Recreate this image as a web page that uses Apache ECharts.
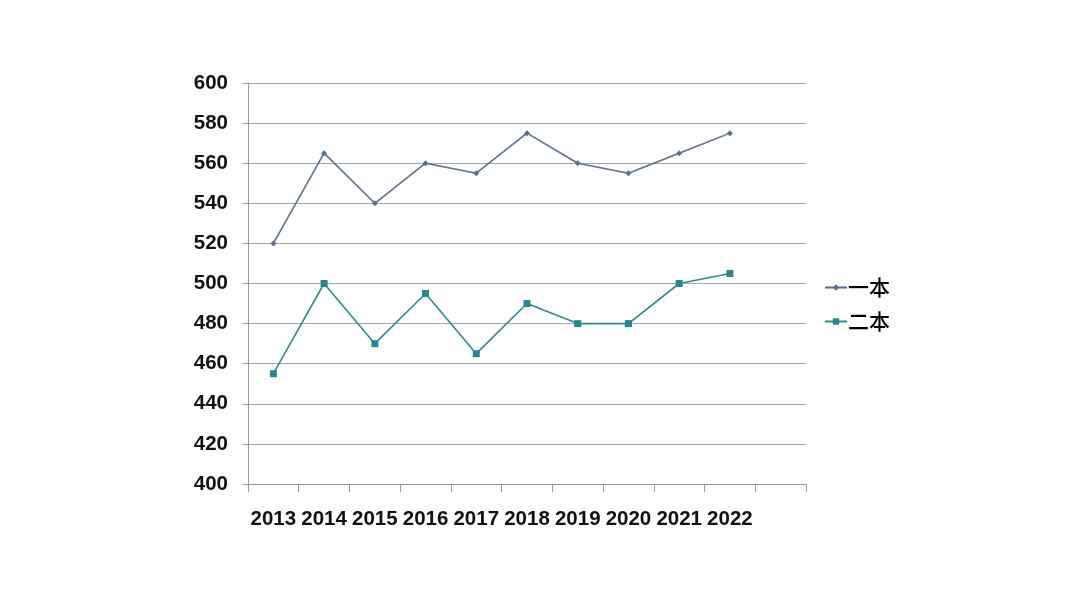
<!DOCTYPE html>
<html>
<head>
<meta charset="utf-8">
<script src="https://cdn.jsdelivr.net/npm/echarts@6/dist/echarts.min.js"></script>
<style>
html,body{margin:0;padding:0;background:#fff;}
#main{width:1080px;height:608px;}
</style>
</head>
<body>
<div id="main"></div>
<script>
// 年份（最后一格空着，与原图一致）
var years = ['2013','2014','2015','2016','2017','2018','2019','2020','2021','2022',''];
// 一本分数线
var yiben = [520, 565, 540, 560, 555, 575, 560, 555, 565, 575];
// 二本分数线
var erben = [455, 500, 470, 495, 465, 490, 480, 480, 500, 505];

var chart = echarts.init(document.getElementById('main'));
var axisFont = {
	fontFamily: 'Liberation Sans',
	fontWeight: 'bold',
	fontSize: 20.5,
	color: '#111'
};
var option = {
	backgroundColor: '#fff',
	animation: false,
	grid: { left: 248, right: 274, top: 83, bottom: 124 },
	legend: {
		orient: 'vertical',
		left: 824,
		top: 277,
		padding: 0,
		itemWidth: 22,
		itemHeight: 8,
		itemGap: 13,
		textStyle: { fontFamily: 'Noto Sans CJK SC', fontSize: 21, fontWeight: 500, color: '#000', padding: [0,0,0,-4] },
		data: ['一本', '二本']
	},
	xAxis: {
		type: 'category',
		data: years,
		boundaryGap: true,
		axisLine: { lineStyle: { color: '#999', width: 1 } },
		axisTick: { show: true, length: 8, lineStyle: { color: '#999' } },
		axisLabel: Object.assign({ margin: 25, interval: 0 }, axisFont)
	},
	yAxis: {
		type: 'value',
		min: 400,
		max: 600,
		interval: 20,
		axisLine: { show: true, lineStyle: { color: '#999', width: 1 } },
		axisTick: { show: true, length: 5, lineStyle: { color: '#999' } },
		axisLabel: Object.assign({ margin: 20 }, axisFont),
		splitLine: { lineStyle: { color: '#a6a6a6', width: 1 } }
	},
	series: [
		{
			name: '一本',
			type: 'line',
			data: yiben,
			symbol: 'diamond',
			symbolSize: 6,
			lineStyle: { color: '#5b6f8f', width: 1.6 },
			itemStyle: { color: '#5b6f8f' }
		},
		{
			name: '二本',
			type: 'line',
			data: erben,
			symbol: 'rect',
			symbolSize: 7,
			lineStyle: { color: '#2f8a8a', width: 1.6 },
			itemStyle: { color: '#2a8591' }
		}
	]
};
chart.setOption(option);
</script>
</body>
</html>
